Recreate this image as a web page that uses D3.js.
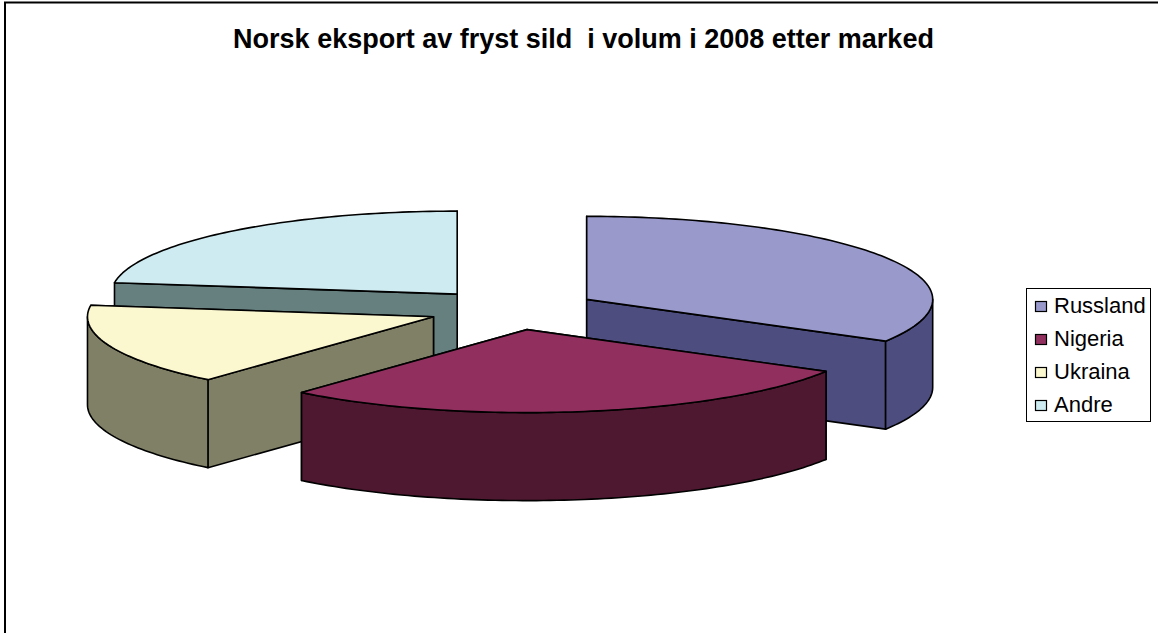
<!DOCTYPE html>
<html><head><meta charset="utf-8">
<script src="https://cdn.jsdelivr.net/npm/d3@7"></script>
<style>html,body{margin:0;padding:0;background:#fff;overflow:hidden}svg{display:block}text{font-family:"Liberation Sans",Arial,sans-serif;fill:#000}</style>
</head><body><svg id="c" width="1158" height="633"></svg>
<script>
const title = "Norsk eksport av fryst sild  i volum i 2008 etter marked";
const categories = ["Russland","Nigeria","Ukraina","Andre"];
const shares = [33.4,27.9,15.9,22.8];
const topColors = ["#9999CC","#91305F","#FBF7CF","#CEEBF1"];
const wallColors = ["#4D4D80","#4E1830","#808066","#668080"];
const drawOrder = [3,0,2,1];

const W=1158,H=633, cx=513, cy=309.5, rx=346, ry=83, depth=88, explode=85;
const svg=d3.select("#c");
svg.append("path").attr("d",`M5,${H}V2.5H${W}`).attr("fill","none").attr("stroke","#000").attr("stroke-width",2);
svg.append("text").attr("x",583.5).attr("y",48).attr("text-anchor","middle").attr("font-size",27).attr("font-weight","bold").style("white-space","pre").text(title);

const arcs=d3.pie().sort(null).value(d=>d)(shares);
const px=(a,r)=>r*Math.sin(a);
const py=(a,r)=>-r*Math.cos(a)*ry/rx;

const curve=(x0,y0,a0,a1,dy)=>{
  const n=Math.max(2,Math.ceil((a1-a0)/0.02)), pts=[];
  for(let i=0;i<=n;i++){const a=a0+(a1-a0)*i/n;pts.push([x0+px(a,rx),y0+py(a,rx)+dy]);}
  return pts;
};
const line=d3.line();
const face=(sel,pts,fill,sw=1.6)=>sel.append("path").attr("d",line(pts)+"Z").attr("fill",fill).attr("stroke","#000").attr("stroke-width",sw).attr("stroke-linejoin","round");

drawOrder.forEach(i=>{
  const d=arcs[i], mid=(d.startAngle+d.endAngle)/2;
  const ox=cx+px(mid,explode), oy=cy+py(mid,explode);
  const g=svg.append("g").attr("class","slice");
  const edge=a=>[ox+px(a,rx),oy+py(a,rx)];
  const wall=a=>{const e=edge(a);return [[ox,oy],e,[e[0],e[1]+depth],[ox,oy+depth]];};
  [d.startAngle,d.endAngle].sort((a,b)=>edge(a)[1]-edge(b)[1]).forEach(a=>face(g,wall(a),wallColors[i]));
  const f0=Math.max(d.startAngle,Math.PI/2), f1=Math.min(d.endAngle,3*Math.PI/2);
  if(f1>f0){
    const t=curve(ox,oy,f0,f1,0), b=curve(ox,oy,f0,f1,depth).reverse();
    face(g,t.concat(b),wallColors[i]);
  }
  face(g,[[ox,oy]].concat(curve(ox,oy,d.startAngle,d.endAngle,0)),topColors[i]);
});

const lg=svg.append("g");
lg.append("rect").attr("x",1026.5).attr("y",288.5).attr("width",124).attr("height",133).attr("fill","#fff").attr("stroke","#000").attr("stroke-width",1);
const ly=d3.scalePoint().domain(categories).range([306,405]);
categories.forEach((c,i)=>{
  lg.append("rect").attr("x",1035.5).attr("y",ly(c)-4.5).attr("width",11).attr("height",10).attr("fill",topColors[i]).attr("stroke","#000").attr("stroke-width",1.2);
  lg.append("text").attr("x",1054).attr("y",ly(c)+7).attr("font-size",22).text(c);
});
</script></body></html>
